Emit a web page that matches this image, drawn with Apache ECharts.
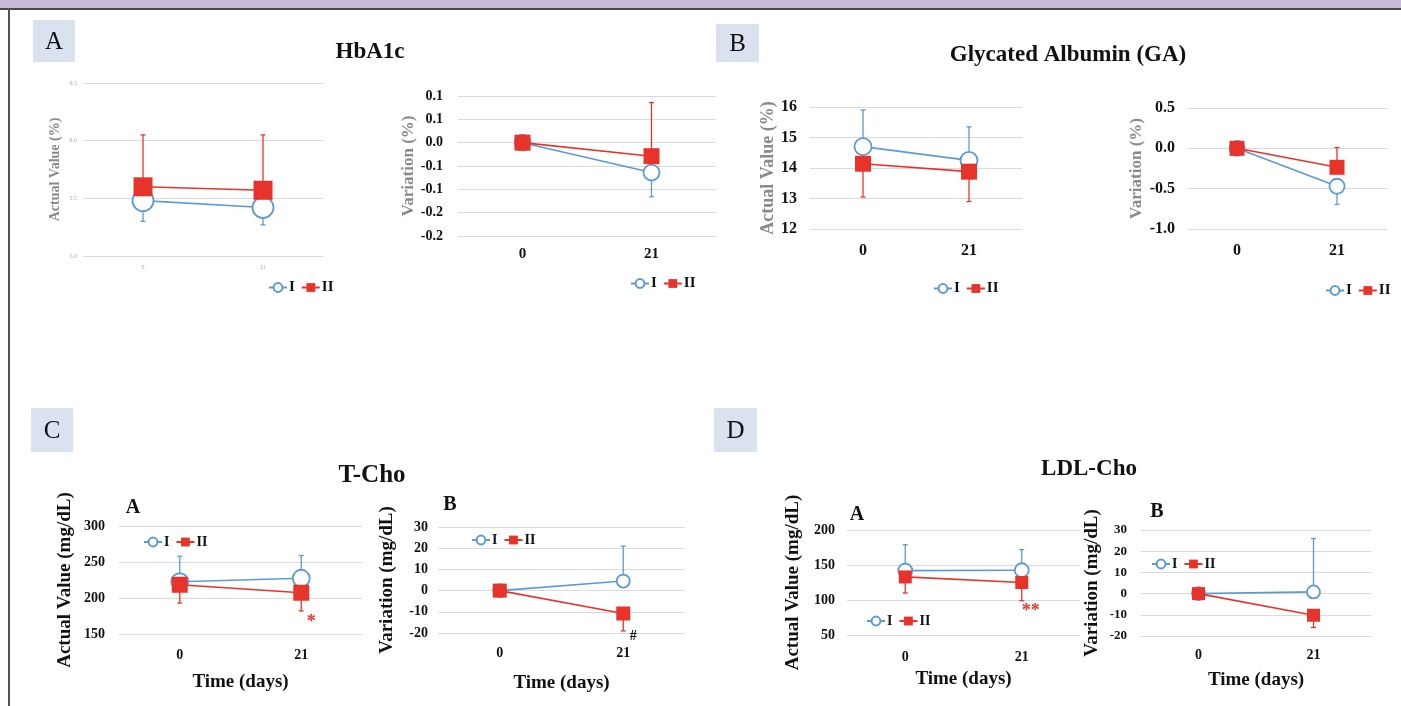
<!DOCTYPE html>
<html><head><meta charset="utf-8">
<script src="https://cdn.jsdelivr.net/npm/echarts@6/dist/echarts.min.js"></script>
<style>html,body{margin:0;padding:0;background:#fff}#c{width:1401px;height:706px}</style>
</head><body><div id="c"></div>
<script>
// ---------- data ----------
const days = ['0', '21'];
const legendNames = ['I', 'II'];
// HbA1c actual (%)
const hba1cActualI = [5.48, 5.42];
const hba1cActualII = [5.60, 5.57];
const hba1cActualErrI = [5.30, 5.27];
const hba1cActualErrII = [6.05, 6.05];
// HbA1c variation (%)
const hba1cVarI = [0, -0.064];
const hba1cVarII = [0, -0.029];
const hba1cVarErrI = [null, -0.116];
const hba1cVarErrII = [null, 0.086];
// GA actual (%)
const gaActualI = [14.7, 14.25];
const gaActualII = [14.14, 13.88];
const gaActualErrI = [15.9, 15.35];
const gaActualErrII = [13.05, 12.9];
// GA variation (%)
const gaVarI = [0, -0.47];
const gaVarII = [0, -0.235];
const gaVarErrI = [null, -0.695];
const gaVarErrII = [null, 0.01];
// T-Cho actual (mg/dL)
const tchoActualI = [222.6, 227.4];
const tchoActualII = [218.4, 207.3];
const tchoActualErrI = [258, 259];
const tchoActualErrII = [193, 182];
const tchoActualMarks = ['', '*'];
// T-Cho variation (mg/dL)
const tchoVarI = [0, 4.5];
const tchoVarII = [0, -10.8];
const tchoVarErrI = [null, 21];
const tchoVarErrII = [null, -19];
const tchoVarMarks = ['', '#'];
// LDL-Cho actual (mg/dL)
const ldlActualI = [142, 142.5];
const ldlActualII = [133, 125];
const ldlActualErrI = [179, 172];
const ldlActualErrII = [110, 99];
const ldlActualMarks = ['', '**'];
// LDL-Cho variation (mg/dL)
const ldlVarI = [0, 0.8];
const ldlVarII = [0, -10.2];
const ldlVarErrI = [null, 26];
const ldlVarErrII = [null, -16];

// ---------- style ----------
const BLUE = '#5b9bd5', RED = '#e8332a';
const FONT = 'Liberation Serif';

function fmt(dec) {
  return function (v) {
    const p = Math.pow(10, dec);
    let r = Math.sign(v) * Math.round(Math.abs(v) * p + 1e-9) / p;
    if (Math.abs(r) < 1e-12) r = 0;
    return r.toFixed(dec);
  };
}

const panels = [
  { I: hba1cActualI, II: hba1cActualII, eI: hba1cActualErrI, eII: hba1cActualErrII, min: 5, max: 6.5, interval: 0.5, dec: 1,
    yName: 'Actual Value (%)', grid: { left: 83, top: 83, width: 240, height: 173 },
    yLab: { fontSize: 6, color: '#aaa', fontWeight: 'normal', margin: 6 }, yNameStyle: { fontSize: 14, color: '#8a8a8a', gap: 21 },
    xLab: { fontSize: 6, color: '#aaa', fontWeight: 'normal', margin: 8 }, sym: [21, 19], legend: { left: 268, top: 280, fontSize: 15 } },
  { I: hba1cVarI, II: hba1cVarII, eI: hba1cVarErrI, eII: hba1cVarErrII, min: -0.2, max: 0.1, interval: 0.05, dec: 1,
    yName: 'Variation (%)', grid: { left: 458, top: 96, width: 258, height: 140 },
    yLab: { fontSize: 14, color: '#111', fontWeight: 'bold', margin: 15 }, yNameStyle: { fontSize: 17, color: '#8a8a8a', gap: 41 },
    xLab: { fontSize: 15, color: '#111', fontWeight: 'bold', margin: 11 }, sym: [16, 16], legend: { left: 630, top: 276, fontSize: 15 } },
  { I: gaActualI, II: gaActualII, eI: gaActualErrI, eII: gaActualErrII, min: 12, max: 16, interval: 1, dec: 0,
    yName: 'Actual Value (%)', grid: { left: 810, top: 107, width: 212, height: 122 },
    yLab: { fontSize: 16, color: '#111', fontWeight: 'bold', margin: 13 }, yNameStyle: { fontSize: 18, color: '#8a8a8a', gap: 33 },
    xLab: { fontSize: 16, color: '#111', fontWeight: 'bold', margin: 14 }, sym: [17, 16], legend: { left: 933, top: 281, fontSize: 15 } },
  { I: gaVarI, II: gaVarII, eI: gaVarErrI, eII: gaVarErrII, min: -1, max: 0.5, interval: 0.5, dec: 1,
    yName: 'Variation (%)', grid: { left: 1187, top: 108, width: 200, height: 121 },
    yLab: { fontSize: 16, color: '#111', fontWeight: 'bold', margin: 12 }, yNameStyle: { fontSize: 17, color: '#8a8a8a', gap: 42 },
    xLab: { fontSize: 16, color: '#111', fontWeight: 'bold', margin: 14 }, sym: [15, 15], legend: { left: 1325, top: 283, fontSize: 15 } },
  { I: tchoActualI, II: tchoActualII, eI: tchoActualErrI, eII: tchoActualErrII, marks: tchoActualMarks, markStyle: { color: RED, fontSize: 18, offset: [10, 30] },
    min: 150, max: 300, interval: 50, dec: 0,
    yName: 'Actual Value (mg/dL)', xName: 'Time (days)', xNameGap: 39, grid: { left: 119, top: 526, width: 243, height: 108 },
    yLab: { fontSize: 14, color: '#111', fontWeight: 'bold', margin: 14 }, yNameStyle: { fontSize: 19, color: '#111', gap: 44 },
    xLab: { fontSize: 14, color: '#111', fontWeight: 'bold', margin: 14 }, sym: [17, 16], legend: { left: 143, top: 535, fontSize: 14 } },
  { I: tchoVarI, II: tchoVarII, eI: tchoVarErrI, eII: tchoVarErrII, marks: tchoVarMarks, markStyle: { color: '#111', fontSize: 14, offset: [10, 23] },
    min: -20, max: 30, interval: 10, dec: 0,
    yName: 'Variation (mg/dL)', xName: 'Time (days)', xNameGap: 41, grid: { left: 438, top: 527, width: 247, height: 106 },
    yLab: { fontSize: 14, color: '#111', fontWeight: 'bold', margin: 10 }, yNameStyle: { fontSize: 19, color: '#111', gap: 41 },
    xLab: { fontSize: 14, color: '#111', fontWeight: 'bold', margin: 13 }, sym: [13, 14], legend: { left: 471, top: 533, fontSize: 14 } },
  { I: ldlActualI, II: ldlActualII, eI: ldlActualErrI, eII: ldlActualErrII, marks: ldlActualMarks, markStyle: { color: RED, fontSize: 18, offset: [9, 29] },
    min: 50, max: 200, interval: 50, dec: 0,
    yName: 'Actual Value (mg/dL)', xName: 'Time (days)', xNameGap: 35, grid: { left: 847, top: 530, width: 233, height: 105 },
    yLab: { fontSize: 14, color: '#111', fontWeight: 'bold', margin: 12 }, yNameStyle: { fontSize: 19, color: '#111', gap: 44 },
    xLab: { fontSize: 14, color: '#111', fontWeight: 'bold', margin: 15 }, sym: [14, 13], legend: { left: 866, top: 614, fontSize: 14 } },
  { I: ldlVarI, II: ldlVarII, eI: ldlVarErrI, eII: ldlVarErrII,
    min: -20, max: 30, interval: 10, dec: 0,
    yName: 'Variation (mg/dL)', xName: 'Time (days)', xNameGap: 35, grid: { left: 1141, top: 530, width: 230, height: 106 },
    yLab: { fontSize: 13, color: '#111', fontWeight: 'bold', margin: 14 }, yNameStyle: { fontSize: 19, color: '#111', gap: 39 },
    xLab: { fontSize: 14, color: '#111', fontWeight: 'bold', margin: 12 }, sym: [13, 13], legend: { left: 1151, top: 557, fontSize: 14 } }
];

function errRender(color) {
  return function (params, api) {
    const p0 = api.coord([api.value(0), api.value(1)]);
    const p1 = api.coord([api.value(0), api.value(2)]);
    const w = 2.5;
    return { type: 'group', children: [
      { type: 'line', shape: { x1: p0[0], y1: p0[1], x2: p1[0], y2: p1[1] }, style: { stroke: color, lineWidth: 1.3 } },
      { type: 'line', shape: { x1: p1[0] - w, y1: p1[1], x2: p1[0] + w, y2: p1[1] }, style: { stroke: color, lineWidth: 1.3 } }
    ] };
  };
}

const grids = [], xAxes = [], yAxes = [], series = [], legends = [];
panels.forEach(function (p, k) {
  grids.push(Object.assign({ containLabel: false }, p.grid));
  xAxes.push({
    type: 'category', gridIndex: k, data: days, boundaryGap: true,
    axisLine: { show: false }, axisTick: { show: false }, splitLine: { show: false },
    axisLabel: { fontFamily: FONT, fontSize: p.xLab.fontSize, color: p.xLab.color, fontWeight: p.xLab.fontWeight, margin: p.xLab.margin },
    name: p.xName || '', nameLocation: 'middle', nameGap: p.xNameGap || 0,
    nameTextStyle: { fontFamily: FONT, fontSize: 19, fontWeight: 'bold', color: '#111' }
  });
  yAxes.push({
    type: 'value', gridIndex: k, min: p.min, max: p.max, interval: p.interval,
    axisLine: { show: false }, axisTick: { show: false },
    splitLine: { show: true, lineStyle: { color: '#dadada', width: 1 } },
    axisLabel: { fontFamily: FONT, fontSize: p.yLab.fontSize, color: p.yLab.color, fontWeight: p.yLab.fontWeight, margin: p.yLab.margin, formatter: fmt(p.dec) },
    name: p.yName, nameLocation: 'middle', nameGap: p.yNameStyle.gap,
    nameTextStyle: { fontFamily: FONT, fontSize: p.yNameStyle.fontSize, fontWeight: 'bold', color: p.yNameStyle.color }
  });
  // error bars
  [[p.I, p.eI, BLUE], [p.II, p.eII, RED]].forEach(function (d) {
    const data = [];
    d[0].forEach(function (v, i) { if (d[1][i] !== null) data.push([i, v, d[1][i]]); });
    series.push({ type: 'custom', name: 'err', xAxisIndex: k, yAxisIndex: k, silent: true, z: 1,
      renderItem: errRender(d[2]), encode: { x: 0, y: [1, 2] }, data: data });
  });
  series.push({
    type: 'line', name: 'I', xAxisIndex: k, yAxisIndex: k, z: 3, data: p.I,
    symbol: 'circle', symbolSize: p.sym[0], showSymbol: true,
    lineStyle: { color: BLUE, width: 1.6 },
    itemStyle: { color: '#fff', borderColor: BLUE, borderWidth: 1.8 }
  });
  series.push({
    type: 'line', name: 'II', xAxisIndex: k, yAxisIndex: k, z: 4,
    data: p.II.map(function (v, i) {
      const m = p.marks ? p.marks[i] : '';
      if (!m) return v;
      return { value: v, label: { show: true, formatter: m, position: 'inside', offset: p.markStyle.offset,
        color: p.markStyle.color, fontSize: p.markStyle.fontSize, fontWeight: 'bold', fontFamily: FONT } };
    }),
    symbol: 'rect', symbolSize: p.sym[1], showSymbol: true,
    lineStyle: { color: RED, width: 1.6 },
    itemStyle: { color: RED, borderColor: RED, borderWidth: 0 }
  });
  legends.push({
    data: legendNames, left: p.legend.left, top: p.legend.top, orient: 'horizontal',
    itemWidth: 18, itemHeight: 11, itemGap: 6, padding: 0, selectedMode: false,
    textStyle: { fontFamily: FONT, fontSize: p.legend.fontSize, fontWeight: 'bold', color: '#111', padding: [0, 0, 0, -3] }
  });
});

function txt(text, x, y, size, weight, align) {
  return { type: 'text', x: x, y: y, z: 10, style: { text: text, fontFamily: FONT, fontSize: size, fontWeight: weight || 'bold',
    fill: '#111', align: align || 'center', verticalAlign: 'middle' } };
}
function box(letter, x, y, w, h) {
  return [
    { type: 'rect', shape: { x: x, y: y, width: w, height: h }, style: { fill: '#dae1ef' }, z: 5 },
    { type: 'text', x: x + w / 2, y: y + h / 2 + 1, z: 6, style: { text: letter, fontFamily: FONT, fontSize: 25, fill: '#111', align: 'center', verticalAlign: 'middle' } }
  ];
}

const graphics = [
  { type: 'rect', shape: { x: 0, y: 0, width: 1401, height: 8 }, style: { fill: '#c9bad9' } },
  { type: 'rect', shape: { x: 0, y: 8, width: 1401, height: 2 }, style: { fill: '#4a4a4a' } },
  { type: 'rect', shape: { x: 8, y: 8, width: 2, height: 698 }, style: { fill: '#555' } },
  txt('HbA1c', 370, 52, 23),
  txt('Glycated Albumin (GA)', 1068, 55, 23),
  txt('T-Cho', 372, 476, 25),
  txt('LDL-Cho', 1089, 469, 23),
  txt('A', 133, 508, 20), txt('B', 450, 505, 20), txt('A', 857, 515, 20), txt('B', 1157, 512, 20)
].concat(box('A', 33, 20, 42, 42), box('B', 716, 24, 43, 38), box('C', 31, 408, 42, 44), box('D', 714, 408, 43, 44));

const chart = echarts.init(document.getElementById('c'), null, { renderer: 'canvas' });
chart.setOption({
  animation: false,
  backgroundColor: '#fff',
  textStyle: { fontFamily: FONT },
  grid: grids, xAxis: xAxes, yAxis: yAxes, series: series, legend: legends,
  graphic: graphics
});
</script></body></html>
